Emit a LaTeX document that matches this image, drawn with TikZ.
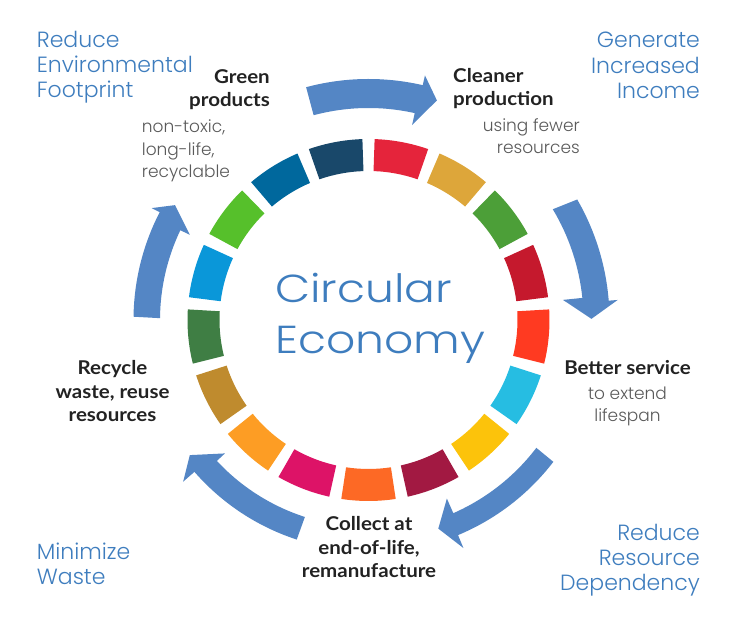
\documentclass[tikz,border=0pt]{standalone}
\usepackage{fontspec}
\setmainfont{Lato}
\newfontfamily\lightf{Poppins Light}
\newfontfamily\titlef{Poppins Light}[FakeStretch=1.17]
\newfontfamily\boldf{Lato}[FakeStretch=1.08]
\definecolor{arrowblue}{RGB}{84,134,197}
\definecolor{textblue}{RGB}{62,125,190}
\definecolor{darktext}{RGB}{34,34,34}
\definecolor{greytext}{RGB}{90,90,90}
\definecolor{sdgA}{HTML}{E5243B}
\definecolor{sdgB}{HTML}{DDA63A}
\definecolor{sdgC}{HTML}{4C9F38}
\definecolor{sdgD}{HTML}{C5192D}
\definecolor{sdgE}{HTML}{FF3A21}
\definecolor{sdgF}{HTML}{26BDE2}
\definecolor{sdgG}{HTML}{FCC30B}
\definecolor{sdgH}{HTML}{A21942}
\definecolor{sdgI}{HTML}{FD6925}
\definecolor{sdgJ}{HTML}{DD1367}
\definecolor{sdgK}{HTML}{FD9D24}
\definecolor{sdgL}{HTML}{BF8B2E}
\definecolor{sdgM}{HTML}{3F7E44}
\definecolor{sdgN}{HTML}{0A97D9}
\definecolor{sdgO}{HTML}{56C02B}
\definecolor{sdgP}{HTML}{00689D}
\definecolor{sdgQ}{HTML}{19486A}
\begin{document}
\begin{tikzpicture}[x=1pt,y=1pt,
  bluelbl/.style={font=\lightf\fontsize{22}{25.2}\selectfont, text=textblue, inner sep=0pt},
  boldlbl/.style={font=\boldf\bfseries\fontsize{19}{23.6}\selectfont, text=darktext, inner sep=0pt},
  greylbl/.style={font=\lightf\fontsize{17}{22.6}\selectfont, text=greytext, inner sep=0pt},
  titlelbl/.style={font=\titlef\fontsize{39}{51.3}\selectfont, text=textblue, inner sep=0pt},
  arrowshape/.style={fill=arrowblue}]
\useasboundingbox (0,0) rectangle (737,618);
\fill[white] (0,0) rectangle (737,618);

\begin{scope}[shift={(368.5,298)}]
  % ring of 17 coloured segments
  \foreach \c [count=\k from 0] in {sdgA,sdgB,sdgC,sdgD,sdgE,sdgF,sdgG,sdgH,sdgI,sdgJ,sdgK,sdgL,sdgM,sdgN,sdgO,sdgP,sdgQ} {
    \pgfmathsetmacro\mid{79.4118-21.1765*\k}
    \pgfmathsetmacro\sa{\mid+8.65}
    \pgfmathsetmacro\sb{\mid-8.65}
    \fill[\c] (\sa:181) arc[start angle=\sa, end angle=\sb, radius=181]
      -- (\sb:149) arc[start angle=\sb, end angle=\sa, radius=149] -- cycle;
  }
  % curved arrows (clockwise)
  \fill[arrowshape] (105:241) arc[start angle=105, end angle=77.0, radius=241]
    -- (77.0:251) -- (72.7:230) -- (77.4:199.8) -- (77.4:212)
    arc[start angle=77.4, end angle=105, radius=212] -- cycle;
  \fill[arrowshape] (30.0:241) arc[start angle=30.0, end angle=4.6, radius=241]
    -- (4.6:250) -- (0.3:223) -- (5.9:195.5) -- (5.9:215)
    arc[start angle=5.9, end angle=31.0, radius=215] -- cycle;
  \fill[arrowshape] (-37.5:233) arc[start angle=-37.5, end angle=-67.4, radius=233]
    -- (-67.4:247) -- (-71.5:220) -- (-66.3:195) -- (-66.3:211)
    arc[start angle=-66.3, end angle=-37.3, radius=211] -- cycle;
  \fill[arrowshape] (-108.1:231) arc[start angle=-108.1, end angle=-138.9, radius=231]
    -- (-138.9:246) -- (-142.9:224) -- (-137.1:196) -- (-137.1:207)
    arc[start angle=-137.1, end angle=-107.9, radius=207] -- cycle;
  \fill[arrowshape] (179.2:235) arc[start angle=179.2, end angle=152.7, radius=235]
    -- (152.7:244) -- (149.3:225) -- (154.5:198) -- (154.5:208.5)
    arc[start angle=154.5, end angle=179.5, radius=208.5] -- cycle;
\end{scope}

% centre title (anchor = baseline of last line)
\node[titlelbl, anchor=base west, align=left] (title) at (275,264) {Circular\\Economy};

% outcome labels (blue)
\node[bluelbl, anchor=base west, align=left] (envfoot) at (36.7,520) {Reduce\\Environmental\\Footprint};
\node[bluelbl, anchor=base east, align=right] (income) at (700,519.7) {Generate\\Increased\\Income};
\node[bluelbl, anchor=base east, align=right] (resdep) at (700,27.3) {Reduce\\Resource\\Dependency};
\node[bluelbl, anchor=base west, align=left] (minwaste) at (36.7,33) {Minimize\\Waste};

% stage labels
\node[boldlbl, anchor=base east, align=right] (green) at (270,511) {Green\\products};
\node[greylbl, anchor=base west, align=left] (greendesc) at (141.7,440) {non-toxic,\\long-life,\\recyclable};
\node[boldlbl, anchor=base west, align=left] (cleaner) at (453,512.3) {Cleaner\\production};
\node[greylbl, anchor=base east, align=right] (cleanerdesc) at (580,464) {using fewer\\resources};
\node[boldlbl, anchor=base] (better) at (627.5,243.7) {Better service};
\node[greylbl, anchor=base, align=center] (betterdesc) at (627.5,196.3) {to extend\\lifespan};
\node[boldlbl, anchor=base, align=center] (collect) at (369,40.3) {Collect at\\end-of-life,\\remanufacture};
\node[boldlbl, anchor=base, align=center] (recycle) at (112.5,196.3) {Recycle\\waste, reuse\\resources};
\end{tikzpicture}
\end{document}
